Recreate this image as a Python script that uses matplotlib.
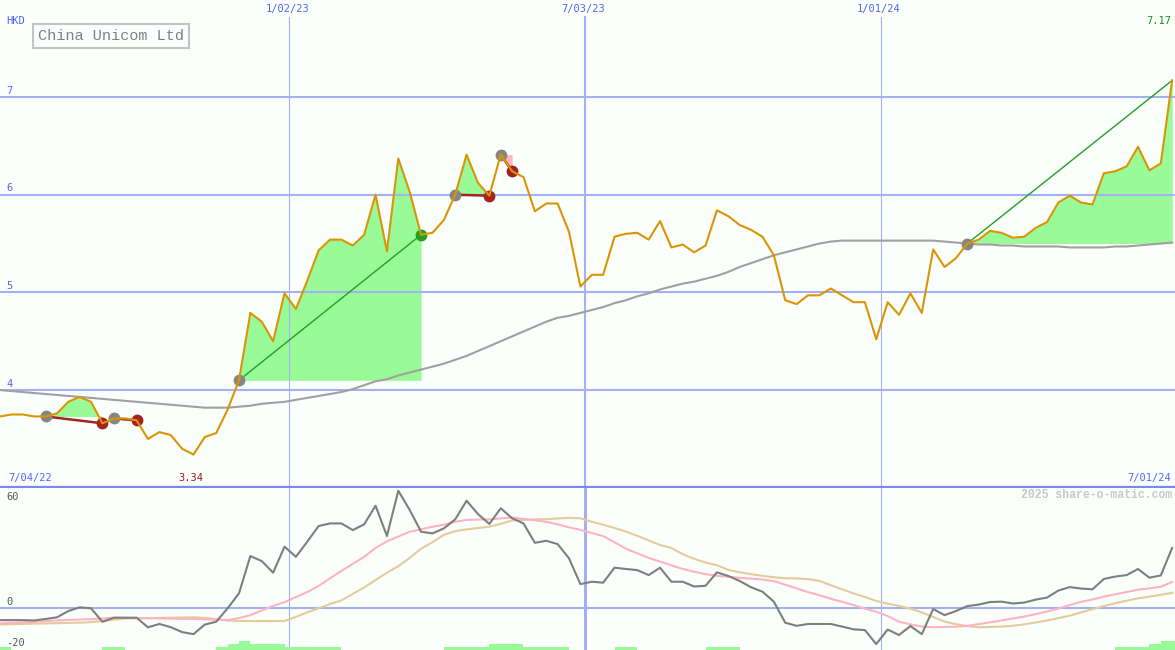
import matplotlib
matplotlib.use('Agg')
import matplotlib.pyplot as plt
import numpy as np
import pandas as pd

# weekly closes, China Unicom (HKD)
weeks = pd.date_range('2022-07-08', periods=104, freq='7D')

close = [3.73, 3.75, 3.75, 3.73, 3.73, 3.76, 3.88, 3.93, 3.88, 3.66,
         3.71, 3.71, 3.69, 3.50, 3.57, 3.54, 3.40, 3.34, 3.52, 3.56,
         3.80, 4.10, 4.79, 4.70, 4.50, 4.99, 4.83, 5.12, 5.43, 5.54,
         5.54, 5.48, 5.59, 6.00, 5.42, 6.37, 6.03, 5.59, 5.61, 5.74,
         6.00, 6.41, 6.12, 5.99, 6.41, 6.24, 6.18, 5.83, 5.91, 5.91,
         5.62, 5.06, 5.18, 5.18, 5.57, 5.60, 5.61, 5.54, 5.73, 5.46,
         5.49, 5.41, 5.48, 5.84, 5.78, 5.69, 5.64, 5.57, 5.38, 4.92,
         4.88, 4.97, 4.97, 5.04, 4.97, 4.90, 4.90, 4.52, 4.90, 4.77,
         4.99, 4.79, 5.44, 5.26, 5.35, 5.50, 5.54, 5.63, 5.61, 5.56,
         5.57, 5.66, 5.72, 5.92, 5.99, 5.92, 5.90, 6.22, 6.24, 6.29,
         6.49, 6.25, 6.32, 7.17]

avg_long = [4.00, 3.99, 3.98, 3.97, 3.96, 3.95, 3.94, 3.93, 3.92, 3.91,
            3.90, 3.89, 3.88, 3.87, 3.86, 3.85, 3.84, 3.83, 3.82, 3.82,
            3.82, 3.83, 3.84, 3.86, 3.87, 3.88, 3.90, 3.92, 3.94, 3.96,
            3.98, 4.01, 4.05, 4.09, 4.11, 4.15, 4.18, 4.21, 4.24, 4.27,
            4.31, 4.35, 4.40, 4.45, 4.50, 4.55, 4.60, 4.65, 4.70, 4.74,
            4.76, 4.79, 4.82, 4.85, 4.89, 4.92, 4.96, 4.99, 5.03, 5.06,
            5.09, 5.11, 5.14, 5.17, 5.21, 5.26, 5.30, 5.34, 5.38, 5.41,
            5.44, 5.47, 5.50, 5.52, 5.53, 5.53, 5.53, 5.53, 5.53, 5.53,
            5.53, 5.53, 5.53, 5.52, 5.51, 5.50, 5.49, 5.49, 5.48, 5.48,
            5.47, 5.47, 5.47, 5.47, 5.46, 5.46, 5.46, 5.46, 5.47, 5.47,
            5.48, 5.49, 5.50, 5.51]

osc = [-6.7, -6.7, -6.7, -6.9, -6.1, -5.2, -1.8, 0.2, -0.3, -7.6,
       -5.4, -5.4, -5.4, -10.6, -8.8, -10.5, -13.2, -14.3, -9.1, -7.6,
       -0.3, 7.8, 28.0, 25.3, 19.0, 33.1, 27.6, 35.8, 44.3, 45.7,
       45.7, 42.1, 45.2, 55.3, 38.9, 63.4, 53.0, 41.2, 40.3, 43.0,
       47.9, 58.0, 50.8, 45.4, 53.9, 48.5, 45.7, 35.2, 36.3, 34.5,
       26.8, 12.8, 14.1, 13.6, 21.7, 21.0, 20.4, 17.7, 21.7, 14.1,
       14.1, 11.5, 11.9, 19.2, 17.2, 14.5, 11.1, 8.7, 3.3, -8.1,
       -9.8, -8.8, -8.8, -8.8, -10.2, -11.7, -12.1, -19.7, -11.8, -14.8,
       -9.9, -14.3, -0.7, -4.0, -1.8, 0.9, 1.7, 3.1, 3.3, 2.3,
       2.8, 4.4, 5.5, 9.3, 11.2, 10.4, 10.0, 15.6, 16.9, 17.7,
       21.0, 16.3, 17.5, 32.4]

osc_fast = [-8.5, -8.2, -7.9, -7.6, -7.2, -6.9, -6.6, -6.4, -6.2, -5.8,
            -5.4, -5.5, -5.6, -5.7, -5.8, -5.9, -6.0, -6.1, -6.3, -6.5,
            -6.7, -5.6, -4.0, -1.5, 1.0, 3.0, 5.8, 8.5, 11.8, 16.0,
            20.0, 23.8, 27.6, 32.4, 36.0, 38.6, 41.2, 42.5, 43.9, 45.0,
            46.6, 47.6, 47.8, 47.9, 48.4, 48.9, 48.2, 47.4, 46.6, 45.2,
            43.6, 42.2, 40.5, 38.8, 35.5, 32.0, 29.5, 27.0, 25.0, 23.0,
            21.0, 19.5, 18.2, 17.3, 16.8, 16.2, 15.8, 15.3, 14.4, 12.5,
            10.5, 8.5, 6.8, 4.9, 3.2, 1.5, -0.5, -2.2, -4.5, -7.6,
            -9.0, -10.2, -10.6, -10.4, -10.3, -9.8, -8.9, -7.9, -6.9, -5.8,
            -4.8, -3.5, -2.0, -0.5, 1.5, 3.2, 4.5, 6.0, 7.3, 8.5,
            9.8, 10.5, 11.4, 14.0]

osc_slow = [-9.0, -8.9, -8.8, -8.6, -8.5, -8.4, -8.2, -8.1, -7.8, -7.2,
            -6.5, -5.9, -5.7, -5.6, -5.5, -5.4, -5.3, -5.2, -5.5, -6.2,
            -6.9, -7.2, -7.2, -7.2, -7.2, -7.2, -5.0, -2.5, -0.3, 2.0,
            4.0, 7.5, 11.0, 15.0, 19.0, 22.5, 27.0, 32.0, 35.5, 39.5,
            41.5, 42.5, 43.2, 43.9, 45.5, 47.3, 47.6, 47.9, 48.0, 48.4,
            48.7, 48.5, 46.6, 45.0, 43.2, 41.3, 39.0, 36.5, 34.0, 32.4,
            29.0, 26.5, 24.5, 23.1, 20.5, 19.2, 18.2, 17.3, 16.5, 16.0,
            15.9, 15.5, 14.6, 12.2, 10.0, 7.8, 5.8, 3.7, 2.2, 1.0,
            -0.5, -2.5, -5.0, -7.5, -8.9, -10.0, -10.6, -10.4, -10.2, -9.8,
            -9.0, -8.0, -6.9, -5.6, -4.3, -2.5, -0.8, 0.9, 2.5, 3.8,
            5.1, 6.0, 7.0, 8.1]

# strength bars under the oscillator (0..3)
trend_bars = [1, 0, 0, 0, 0, 0, 0, 0, 0, 1,
              1, 0, 0, 0, 0, 0, 0, 0, 0, 1,
              2, 3, 2, 2, 2, 1, 1, 1, 1, 1,
              0, 0, 0, 0, 0, 0, 0, 0, 0, 1,
              1, 1, 1, 2, 2, 2, 1, 1, 1, 1,
              0, 0, 0, 0, 1, 1, 0, 0, 0, 0,
              0, 0, 1, 1, 1, 0, 0, 0, 0, 0,
              0, 0, 0, 0, 0, 0, 0, 0, 0, 0,
              0, 0, 0, 0, 0, 0, 0, 0, 0, 0,
              0, 0, 0, 0, 0, 0, 0, 0, 1, 1,
              1, 2, 3, 3]

trade_start = [4, 10, 21, 40, 44, 85]
trade_end = [9, 12, 37, 43, 45, 103]
trade_open = [False, False, False, False, False, True]

price_levels = [4, 5, 6, 7]
date_lines = ['2023-01-02', '2023-07-03', '2024-01-01']
date_labels = ['1/02/23', '7/03/23', '1/01/24']

BG = '#fbfffb'
GRID = '#a3b1f2'
BLUE_TXT = '#5563f2'
FONT = 'Liberation Mono'
SMALL = 'DejaVu Sans Mono'


def set_x(ax):
    ax.set_xlim(weeks[0], weeks[0] + pd.Timedelta(days=7 * 103.25))
    ax.set_facecolor(BG)
    ax.set_xticks([])
    ax.set_yticks([])
    for side in ['top', 'left', 'right', 'bottom']:
        ax.spines[side].set_visible(False)


def plot_price(ax):
    set_x(ax)
    prices = np.array(close)
    ax.set_ylim(3.008, 7.993)
    ax.spines['bottom'].set_visible(True)
    ax.spines['bottom'].set_color('#7a88f0')
    ax.spines['bottom'].set_linewidth(1.6)

    for lvl in price_levels:
        ax.axhline(lvl, color=GRID, lw=1.5, zorder=2)
        ax.annotate(str(lvl), (0, lvl), xycoords=('axes fraction', 'data'),
                    xytext=(4.3, 4.5), textcoords='offset points',
                    ha='left', va='center', fontsize=7.5, color=BLUE_TXT, family=SMALL)

    for d, lbl, w in zip(date_lines, date_labels, [0.8, 1.5, 0.8]):
        ax.axvline(pd.Timestamp(d), ymax=1 - 17 / 487, color=GRID, lw=w, zorder=2)
        ax.annotate(lbl, (pd.Timestamp(d), 1), xycoords=('data', 'axes fraction'),
                    xytext=(-1.5, -6.5), textcoords='offset points',
                    ha='center', va='center', fontsize=7.5, color=BLUE_TXT, family=SMALL)

    # trades: fills, connecting lines, markers
    for start, end, is_open in zip(trade_start, trade_end, trade_open):
        seg = slice(start, end + 1)
        entry = prices[start]
        px = prices[seg]
        ax.fill_between(weeks[seg], px, entry, where=px >= entry, interpolate=True,
                        color='#98fb98', lw=0, zorder=1)
        ax.fill_between(weeks[seg], px, entry, where=px <= entry, interpolate=True,
                        color='#ffb6c1', lw=0, zorder=1)
        won = prices[end] > entry
        col = '#22a022' if won else '#a52222'
        ax.plot([weeks[start], weeks[end]], [entry, prices[end]], color=col,
                lw=1.0 if won else 1.8, zorder=4)
        ax.plot(weeks[start], entry, 'o', color='#858585', ms=7.5, zorder=4.5)
        if not is_open:
            ax.plot(weeks[end], prices[end], 'o', color=col, ms=7.5, zorder=4.5)

    ax.plot(weeks, avg_long, color='#a0a0a0', lw=1.5, zorder=3)
    ax.plot(weeks, prices, color='#da9405', lw=1.5, zorder=5)

    ax.text(0.005, 1 - 21 / 487, 'HKD', transform=ax.transAxes, ha='left', va='center',
            fontsize=7.5, color=BLUE_TXT, family=SMALL)
    ax.text(38 / 1175, 1 - 36 / 487, 'China Unicom Ltd', transform=ax.transAxes,
            ha='left', va='center', fontsize=11, color='#808080', family=FONT,
            bbox=dict(boxstyle='square,pad=0.3', fc=BG, ec='#c4c4c4', lw=1.5), zorder=6)
    ax.text(0.007, 9 / 487, '7/04/22', transform=ax.transAxes, ha='left', va='center',
            fontsize=7.5, color=BLUE_TXT, family=SMALL)
    ax.text(0.997, 9 / 487, '7/01/24', transform=ax.transAxes, ha='right', va='center',
            fontsize=7.5, color=BLUE_TXT, family=SMALL)
    ax.text(0.997, 1 - 21 / 487, f'{prices[-1]:.2f}', transform=ax.transAxes,
            ha='right', va='center', fontsize=7.5, color='#1e8c1e', family=SMALL)
    low = int(np.argmin(prices))
    ax.annotate(f'{prices[low]:.2f}', (weeks[low], 0), xycoords=('data', 'axes fraction'),
                xytext=(-2, 6.5), textcoords='offset points', ha='center', va='center',
                fontsize=7.5, color='#a01818', family=SMALL)


def plot_oscillator(ax):
    set_x(ax)
    ax.set_ylim(-22.9, 64.9)
    ax.axhline(0, color=GRID, lw=1.5, zorder=2)
    for d, w in zip(date_lines, [0.8, 2.2, 0.8]):
        ax.axvline(pd.Timestamp(d), color=GRID, lw=w, zorder=2)

    ax.plot(weeks, osc_slow, color='#e4cb9c', lw=1.5, zorder=3)
    ax.plot(weeks, osc_fast, color='#ffb2c4', lw=1.5, zorder=3)
    ax.plot(weeks, osc, color='#7e7e7e', lw=1.5, zorder=4)

    for val, dy in [(60, 0), (0, 4.3), (-20, 1.5)]:
        ax.annotate(str(val), (0, val), xycoords=('axes fraction', 'data'),
                    xytext=(4.3, dy), textcoords='offset points', ha='left', va='center',
                    fontsize=7.5, color='#555555', family=SMALL)
    ax.annotate('2025 share-o-matic.com', (1, 1), xycoords='axes fraction',
                xytext=(-2.3, -5), textcoords='offset points', ha='right', va='center',
                fontsize=8.3, fontweight='bold', color='#c8c8c8', family=FONT)

    bar_ax = ax.twinx()
    bar_ax.bar(weeks, trend_bars, width=7, align='edge', color='#98fb98', lw=0)
    bar_ax.set_ylim(0, 54)
    bar_ax.set_yticks([])
    for side in ['top', 'left', 'right', 'bottom']:
        bar_ax.spines[side].set_visible(False)


def main():
    fig = plt.figure(figsize=(11.75, 6.5), dpi=100, facecolor=BG)
    price_ax = fig.add_axes([0, 1 - 487 / 650, 1, 487 / 650])
    osc_ax = fig.add_axes([0, 0, 1, 162 / 650])
    plot_price(price_ax)
    plot_oscillator(osc_ax)
    fig.savefig('out.png', dpi=100, facecolor=BG)


if __name__ == '__main__':
    main()
